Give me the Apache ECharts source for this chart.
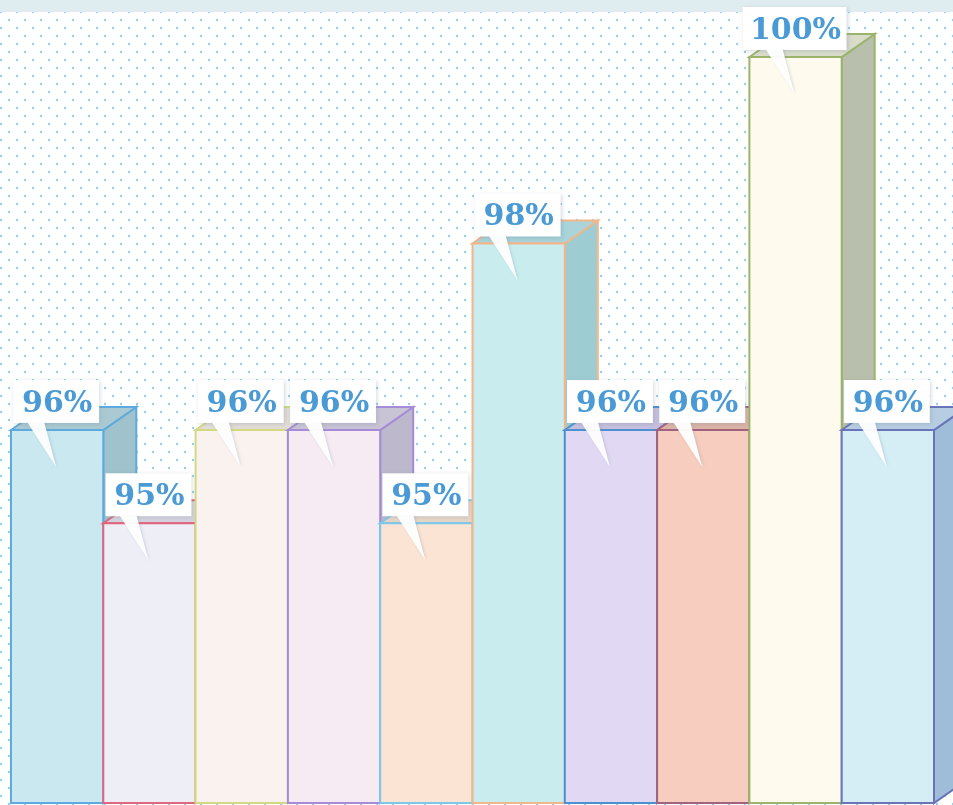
<!DOCTYPE html>
<html>
<head>
<meta charset="utf-8">
<script src="https://cdn.jsdelivr.net/npm/echarts@6/dist/echarts.min.js"></script>
<style>
  html, body { margin: 0; padding: 0; background: #fff; }
  #chart { width: 953px; height: 805px; }
</style>
</head>
<body>
<div id="chart"></div>
<script>
// data
var categories = ['1', '2', '3', '4', '5', '6', '7', '8', '9', '10'];
var values = [96, 95, 96, 96, 95, 98, 96, 96, 100, 96];
var labels = ['96%', '95%', '96%', '96%', '95%', '98%', '96%', '96%', '100%', '96%'];

// colours per bar: front, side, top, edge
var frontColors = ['#c9e8ef', '#eeeef7', '#faf2ef', '#f6ebf3', '#fbe4d4', '#c9edef', '#e1d9f3', '#f6cdbe', '#fefbee', '#d5eef5'];
var sideColors  = ['#9fc2cc', '#c9c9d6', '#dcd6cf', '#bdb8cb', '#e2cfc0', '#9dcdd3', '#bcb4d6', '#d6aa9c', '#b8bfad', '#9fbdd8'];
var topColors   = ['#aac9d2', '#d3d3de', '#e2dcd6', '#c8c3d5', '#e8d6c8', '#a8d4da', '#c7bfde', '#dcb4a6', '#dadcca', '#b6cde2'];
var edgeColors  = ['#5eaade', '#e0657e', '#d2da80', '#a58bd8', '#7cc8e8', '#f3b68a', '#4d8fd0', '#a0627c', '#9bb46c', '#6a74b8'];

var DX = 33, DY = 23;

// dotted paper
function dotPattern() {
  var c = document.createElement('canvas');
  c.width = 16; c.height = 16;
  var g = c.getContext('2d');
  g.fillStyle = '#ffffff';
  g.fillRect(0, 0, 16, 16);
  g.fillStyle = '#96cdee';
  g.beginPath(); g.arc(9, 4, 1.2, 0, Math.PI * 2); g.fill();
  g.beginPath(); g.arc(1, 12, 1.2, 0, Math.PI * 2); g.fill();
  return c;
}

function renderBar(params, api) {
  var i = params.dataIndex;
  var top = api.coord([api.value(0), api.value(1)]);
  var base = api.coord([api.value(0), 92]);
  var w = api.size([1, 0])[0];
  var x0 = top[0] - w / 2, x1 = top[0] + w / 2;
  var ty = top[1], by = base[1];
  var line = edgeColors[i];
  return {
    type: 'group',
    children: [
      {
        type: 'polygon',
        shape: { points: [[x1, ty], [x1 + DX, ty - DY], [x1 + DX, by - DY], [x1, by]] },
        style: { fill: sideColors[i], stroke: line, lineWidth: 2 }
      },
      {
        type: 'polygon',
        shape: { points: [[x0, ty], [x0 + DX, ty - DY], [x1 + DX, ty - DY], [x1, ty]] },
        style: { fill: topColors[i], stroke: line, lineWidth: 2 }
      },
      {
        type: 'rect',
        shape: { x: x0, y: ty, width: w, height: by - ty },
        style: { fill: frontColors[i], stroke: line, lineWidth: 2 }
      }
    ]
  };
}

function renderBubble(params, api) {
  var i = params.dataIndex;
  var p = api.coord([api.value(0), api.value(1)]);
  var cx = p[0], ty = p[1];
  var bw = labels[i].length > 3 ? 104 : 86;
  return {
    type: 'group',
    children: [
      {
        type: 'rect',
        shape: { x: cx - bw / 2 - 1, y: ty - 50, width: bw, height: 43 },
        style: {
          fill: 'rgba(255,255,255,0.95)',
          shadowBlur: 4, shadowColor: 'rgba(120,140,160,0.35)', shadowOffsetX: 1, shadowOffsetY: 1
        }
      },
      {
        type: 'polygon',
        shape: { points: [[cx - 30, ty - 8], [cx - 13, ty - 8], [cx - 1, ty + 37]] },
        style: {
          fill: 'rgba(255,255,255,0.95)',
          shadowBlur: 3, shadowColor: 'rgba(120,140,160,0.3)', shadowOffsetX: 1, shadowOffsetY: 0
        }
      },
      {
        type: 'rect',
        shape: { x: cx - bw / 2, y: ty - 49, width: bw - 2, height: 41 },
        style: { fill: '#ffffff' }
      },
      {
        type: 'text',
        style: {
          x: cx, y: ty - 26,
          text: labels[i],
          fill: '#4a9ad6',
          font: 'bold 30px "DejaVu Serif", serif',
          align: 'center', verticalAlign: 'middle'
        }
      }
    ]
  };
}

var chart = echarts.init(document.getElementById('chart'));
chart.setOption({
  backgroundColor: { image: dotPattern(), repeat: 'repeat' },
  animation: false,
  grid: { left: 11, right: 19, top: 57, bottom: 2 },
  xAxis: {
    type: 'category',
    data: categories,
    show: false
  },
  yAxis: {
    type: 'value',
    min: 92,
    max: 100,
    show: false
  },
  graphic: [
    {
      type: 'rect',
      shape: { x: 0, y: 0, width: 953, height: 12 },
      style: { fill: '#e0edf0' },
      z: 0
    }
  ],
  series: [
    {
      type: 'custom',
      renderItem: renderBar,
      data: values.map(function (v, i) { return [i, v]; }),
      z: 2
    },
    {
      type: 'custom',
      renderItem: renderBubble,
      data: values.map(function (v, i) { return [i, v]; }),
      z: 5
    }
  ]
});
</script>
</body>
</html>
